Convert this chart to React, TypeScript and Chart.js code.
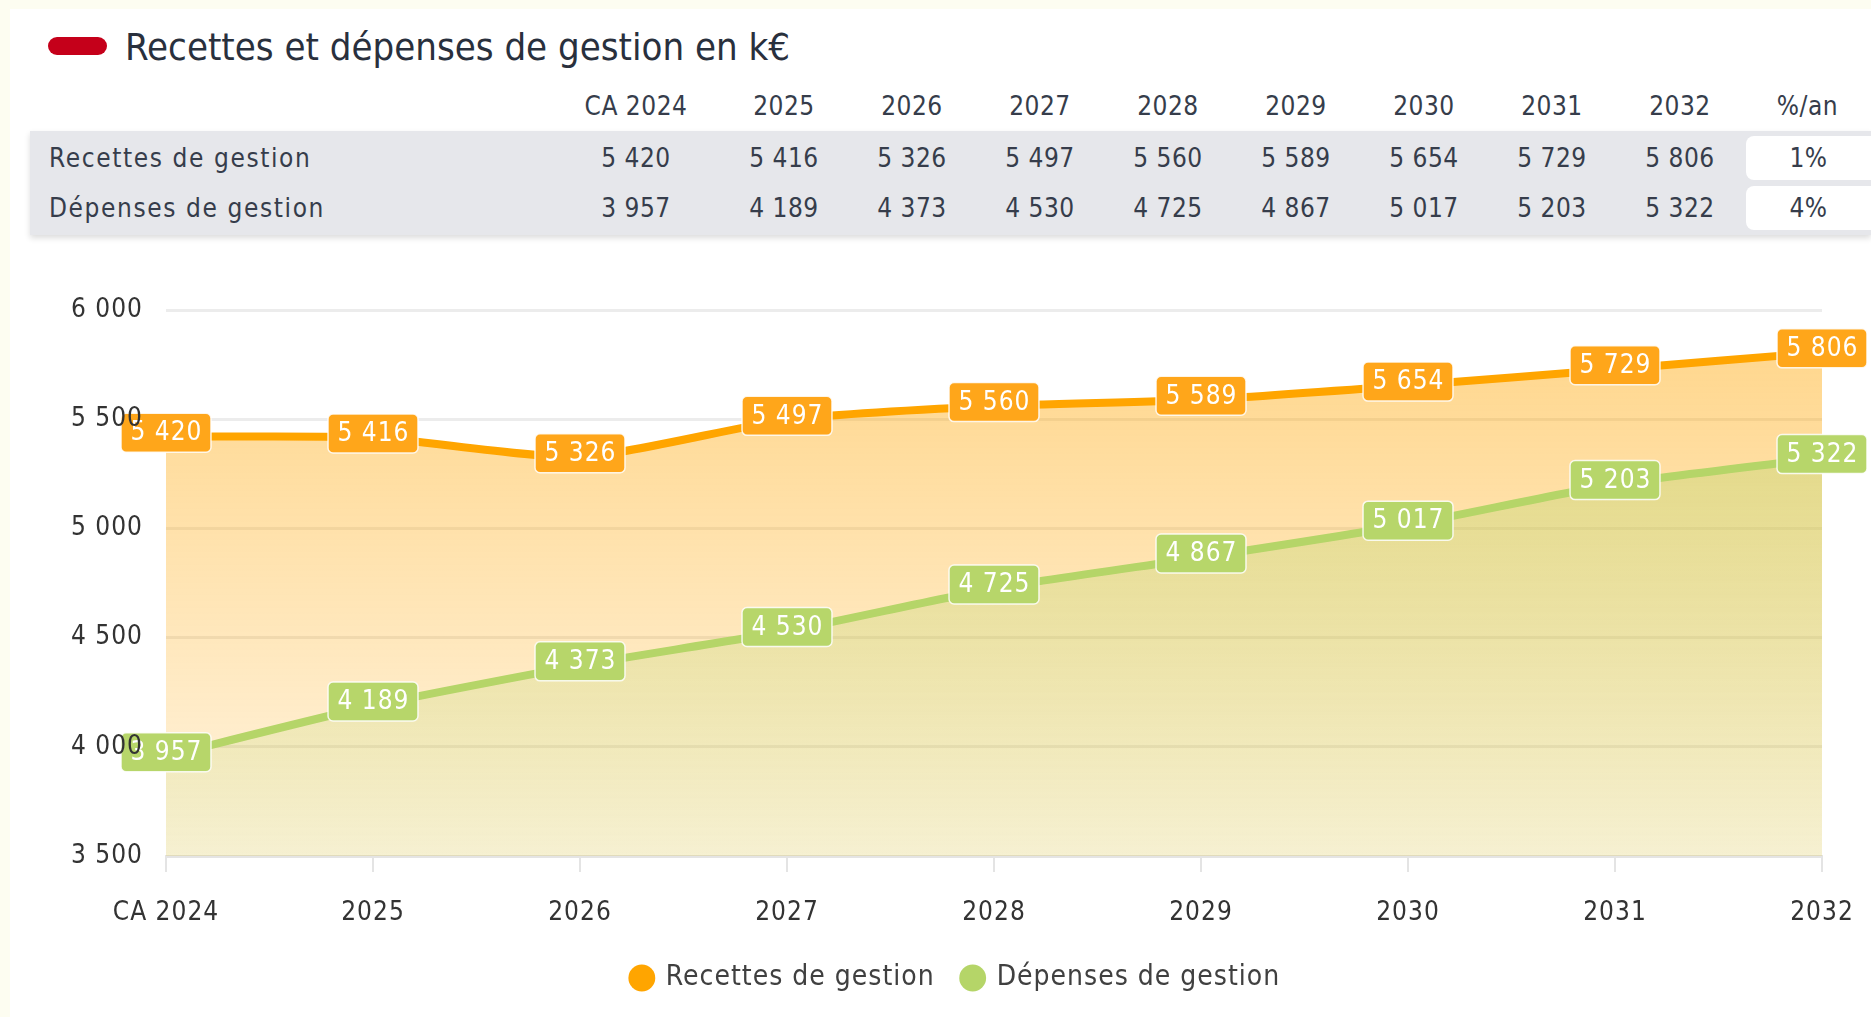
import React, { useEffect, useRef } from 'react';
import { Chart, registerables } from 'chart.js';

Chart.register(...registerables);

// ---------- data ----------
const categories = ['CA 2024', '2025', '2026', '2027', '2028', '2029', '2030', '2031', '2032'];
const recettes = [5420, 5416, 5326, 5497, 5560, 5589, 5654, 5729, 5806];
const depenses = [3957, 4189, 4373, 4530, 4725, 4867, 5017, 5203, 5322];
const seriesNames = ['Recettes de gestion', 'Dépenses de gestion'];
const growthRates = ['1%', '4%'];
const growthHeader = '%/an';
const titleText = 'Recettes et dépenses de gestion en k€';
const yMin = 3500;
const yMax = 6000;
const yStep = 500;

// ---------- style ----------
const FONT = "'DejaVu Sans Condensed', 'DejaVu Sans', sans-serif";
const ORANGE = '#ffa500';
const GREEN = '#b5d568';
const ORANGE_LABEL = '#ffa61a';
const GREEN_LABEL = '#b7d66a';
const TEXT = '#363d4b';

const fmt = (v: number) => String(v).replace(/\B(?=(\d{3})+(?!\d))/g, ' ');

function grad(chart: any, rgb: string, a0: number, a1: number) {
  const { ctx, chartArea } = chart;
  if (!chartArea) return `rgba(${rgb},${a0})`;
  const g = ctx.createLinearGradient(0, chartArea.top, 0, chartArea.bottom);
  g.addColorStop(0, `rgba(${rgb},${a0})`);
  g.addColorStop(1, `rgba(${rgb},${a1})`);
  return g;
}

const spacingPlugin = {
  id: 'spacing',
  beforeLayout(chart: any) {
    chart.ctx.letterSpacing = '1px';
  },
  afterLayout(chart: any) {
    // centre the legend a little to the right, as in the reference
    if (chart.legend) {
      chart.legend.left += 40;
      chart.legend.right += 40;
    }
  },
  beforeDraw(chart: any) {
    chart.ctx.letterSpacing = '1px';
  },
};

const labelColors = [ORANGE_LABEL, GREEN_LABEL];

const valueLabelPlugin = {
  id: 'valueLabels',
  afterDatasetsDraw(chart: any) {
    const { ctx } = chart;
    chart.data.datasets.forEach((ds: any, di: number) => {
      const meta = chart.getDatasetMeta(di);
      meta.data.forEach((pt: any, i: number) => {
        const text = fmt(ds.data[i]);
        ctx.save();
        ctx.font = `26px ${FONT}`;
        ctx.letterSpacing = '1px';
        const tw = ctx.measureText(text).width;
        const w = tw + 18;
        const h = 39;
        const cy = pt.y - 4;
        ctx.beginPath();
        ctx.roundRect(pt.x - w / 2, cy - h / 2, w, h, 5);
        ctx.fillStyle = labelColors[di];
        ctx.fill();
        ctx.lineWidth = 1.5;
        ctx.strokeStyle = 'rgba(255,255,255,0.85)';
        ctx.stroke();
        ctx.fillStyle = '#ffffff';
        ctx.textAlign = 'center';
        ctx.textBaseline = 'middle';
        ctx.fillText(text, pt.x + 0.5, cy + 1);
        ctx.restore();
      });
    });
  },
};

function LineChart() {
  const ref = useRef<HTMLCanvasElement | null>(null);
  useEffect(() => {
    if (!ref.current) return;
    Chart.defaults.font.family = FONT;
    const chart = new Chart(ref.current, {
      type: 'line',
      data: {
        labels: categories,
        datasets: [
          {
            label: seriesNames[0],
            data: recettes,
            borderColor: ORANGE,
            borderWidth: 8,
            tension: 0.2,
            pointRadius: 0,
            pointHoverRadius: 0,
            fill: 'start',
            order: 2,
            backgroundColor: (c: any) => grad(c.chart, '255,165,0', 0.47, 0.12),
          },
          {
            label: seriesNames[1],
            data: depenses,
            borderColor: GREEN,
            borderWidth: 8,
            tension: 0.2,
            pointRadius: 0,
            pointHoverRadius: 0,
            fill: 'start',
            order: 1,
            backgroundColor: (c: any) => grad(c.chart, '181,213,104', 0.45, 0.12),
          },
        ],
      },
      options: {
        responsive: false,
        animation: false,
        events: [],
        devicePixelRatio: 1,
        layout: { padding: { left: 0, right: 49, top: 50, bottom: 15 } },
        scales: {
          x: {
            type: 'category',
            offset: false,
            grid: {
              drawOnChartArea: false,
              drawTicks: true,
              tickLength: 16,
              color: '#e4e4e4',
              lineWidth: 2,
            },
            border: { display: true, color: '#e4e4e4', width: 3 },
            ticks: {
              color: '#333333',
              font: { size: 26, family: FONT },
              padding: 26,
              maxRotation: 0,
              autoSkip: false,
            },
            afterFit: (s: any) => {
              s.height = 80;
              s.paddingLeft = 0;
              s.paddingRight = 0;
            },
          },
          y: {
            min: yMin,
            max: yMax,
            grid: { color: 'rgba(0,0,0,0.075)', lineWidth: 3, drawTicks: false },
            border: { display: false },
            ticks: {
              stepSize: yStep,
              color: '#333333',
              font: { size: 26, family: FONT },
              padding: 23,
              z: 1,
              callback: (v: any) => fmt(Number(v)),
            },
            afterFit: (s: any) => {
              s.width = 156;
            },
          },
        },
        plugins: {
          tooltip: { enabled: false },
          legend: {
            position: 'bottom',
            labels: {
              usePointStyle: true,
              boxWidth: 20,
              boxHeight: 19,
              padding: 28,
              color: '#404040',
              font: { size: 28, family: FONT },
              sort: (a: any, b: any) => a.datasetIndex - b.datasetIndex,
              generateLabels: (ch: any) =>
                Chart.defaults.plugins.legend.labels.generateLabels(ch).map((l: any) => {
                  const col = ch.data.datasets[l.datasetIndex].borderColor;
                  return { ...l, fillStyle: col, strokeStyle: col, lineWidth: 0, pointStyle: 'circle' };
                }),
            },
          },
        },
      },
      plugins: [spacingPlugin, valueLabelPlugin],
    } as any);
    return () => chart.destroy();
  }, []);
  return <canvas ref={ref} width={1861} height={757} style={{ display: 'block' }} />;
}

export default function App() {
  const colTemplate = `522px 168px repeat(8, 128px) 127px`;
  const headerYears = categories;
  const rows = [
    { name: seriesNames[0], values: recettes, rate: growthRates[0] },
    { name: seriesNames[1], values: depenses, rate: growthRates[1] },
  ];
  return (
    <div style={{ position: 'fixed', inset: 0, background: '#fdfdf1', fontFamily: FONT }}>
      <div
        style={{
          position: 'absolute',
          left: 10,
          top: 9,
          right: 0,
          bottom: 0,
          background: '#ffffff',
          overflow: 'hidden',
        }}
      >
        {/* title */}
        <div
          style={{
            position: 'absolute',
            left: 38,
            top: 28,
            width: 59,
            height: 18,
            borderRadius: 9,
            background: '#c5001a',
          }}
        />
        <div
          style={{
            position: 'absolute',
            left: 115,
            top: 13,
            height: 50,
            lineHeight: '50px',
            fontSize: 38,
            color: '#29303d',
            whiteSpace: 'nowrap',
          }}
        >
          {titleText}
        </div>

        {/* table header */}
        <div
          style={{
            position: 'absolute',
            left: 20,
            top: 77,
            width: 1841,
            height: 40,
            display: 'grid',
            gridTemplateColumns: colTemplate,
            lineHeight: '40px',
            fontSize: 26,
            color: TEXT,
            letterSpacing: '0.5px',
          }}
        >
          <div />
          {headerYears.map((y) => (
            <div key={y} style={{ textAlign: 'center', whiteSpace: 'nowrap' }}>
              {y}
            </div>
          ))}
          <div style={{ textAlign: 'center' }}>{growthHeader}</div>
        </div>

        {/* table body */}
        <div
          style={{
            position: 'absolute',
            left: 20,
            top: 122,
            width: 1841,
            padding: '2px 0',
            background: '#e6e7eb',
            boxShadow: '0 3px 6px rgba(0,0,0,0.14)',
          }}
        >
          {rows.map((r) => (
            <div
              key={r.name}
              style={{
                display: 'grid',
                gridTemplateColumns: colTemplate,
                height: 50,
                lineHeight: '50px',
                fontSize: 26,
                color: TEXT,
                letterSpacing: '0.5px',
              }}
            >
              <div style={{ paddingLeft: 19, letterSpacing: '1.6px', whiteSpace: 'nowrap' }}>{r.name}</div>
              {r.values.map((v, i) => (
                <div key={i} style={{ textAlign: 'center', whiteSpace: 'nowrap' }}>
                  {fmt(v)}
                </div>
              ))}
              <div
                style={{
                  margin: '3px 0 3px 2px',
                  background: '#ffffff',
                  borderRadius: '8px 0 0 8px',
                  textAlign: 'center',
                  lineHeight: '44px',
                }}
              >
                {r.rate}
              </div>
            </div>
          ))}
        </div>

        {/* chart */}
        <div style={{ position: 'absolute', left: 0, top: 251, width: 1861, height: 757 }}>
          <LineChart />
        </div>
      </div>
    </div>
  );
}
